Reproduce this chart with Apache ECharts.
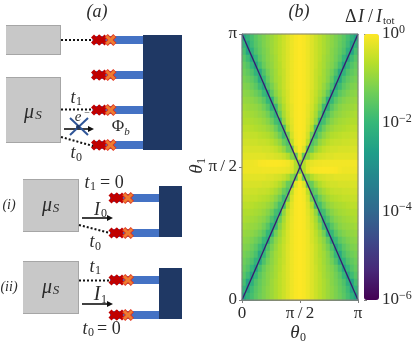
<!DOCTYPE html>
<html>
<head>
<meta charset="utf-8">
<title>chart</title>
<style>html,body{margin:0;padding:0;background:#fff}#main{width:415px;height:351px}</style>
<script src="https://cdn.jsdelivr.net/npm/echarts@6/dist/echarts.min.js"></script>
</head>
<body>
<div id="main"></div>
<script>
// log10(dI/I_tot), top row (theta1 = pi) first, left to right
var logRatio = [
[-2.5,-2.1,-1.8,-1.55,-1.35,-1.2,-1.05,-.9,-.75,-.6,-.45,-.3,-.15,-.05,0,-.05,-.15,-.3,-.45,-.6,-.75,-.9,-1.05,-1.2,-1.35,-1.55,-1.8,-2.1,-2.5],
[-2.1,-2.5,-1.9,-1.6,-1.4,-1.2,-1.05,-.9,-.75,-.6,-.45,-.3,-.15,-.05,0,-.05,-.15,-.3,-.45,-.6,-.75,-.9,-1.05,-1.2,-1.4,-1.6,-1.9,-2.5,-2.1],
[-1.8,-2.5,-2.2,-1.7,-1.45,-1.25,-1.1,-.9,-.75,-.6,-.45,-.3,-.15,-.05,0,-.05,-.15,-.3,-.45,-.6,-.75,-.9,-1.1,-1.25,-1.45,-1.7,-2.2,-2.5,-1.8],
[-1.6,-1.9,-2.5,-2,-1.55,-1.3,-1.1,-.95,-.8,-.6,-.45,-.3,-.15,-.05,0,-.05,-.15,-.3,-.45,-.6,-.8,-.95,-1.1,-1.3,-1.55,-2,-2.5,-1.9,-1.6],
[-1.45,-1.65,-2,-2.5,-1.8,-1.4,-1.15,-1,-.8,-.65,-.45,-.3,-.15,-.05,0,-.05,-.15,-.3,-.45,-.65,-.8,-1,-1.15,-1.4,-1.8,-2.5,-2,-1.65,-1.45],
[-1.35,-1.5,-1.7,-2.1,-2.4,-1.7,-1.3,-1.05,-.85,-.65,-.5,-.3,-.15,-.05,0,-.05,-.15,-.3,-.5,-.65,-.85,-1.05,-1.3,-1.7,-2.4,-2.1,-1.7,-1.5,-1.35],
[-1.25,-1.35,-1.5,-1.75,-2.4,-2,-1.45,-1.1,-.85,-.7,-.5,-.3,-.15,-.05,0,-.05,-.15,-.3,-.5,-.7,-.85,-1.1,-1.45,-2,-2.4,-1.75,-1.5,-1.35,-1.25],
[-1.15,-1.2,-1.35,-1.55,-1.9,-2.4,-1.7,-1.25,-.95,-.7,-.5,-.3,-.15,-.05,0,-.05,-.15,-.3,-.5,-.7,-.95,-1.25,-1.7,-2.4,-1.9,-1.55,-1.35,-1.2,-1.15],
[-1.05,-1.1,-1.2,-1.35,-1.55,-1.95,-2.3,-1.5,-1.05,-.8,-.55,-.35,-.15,-.05,0,-.05,-.15,-.35,-.55,-.8,-1.05,-1.5,-2.3,-1.95,-1.55,-1.35,-1.2,-1.1,-1.05],
[-.95,-1,-1.05,-1.15,-1.3,-1.55,-2,-2.2,-1.3,-.9,-.6,-.35,-.15,-.05,0,-.05,-.15,-.35,-.6,-.9,-1.3,-2.2,-2,-1.55,-1.3,-1.15,-1.05,-1,-.95],
[-.85,-.9,-.95,-1,-1.1,-1.3,-1.6,-2.2,-1.9,-1.1,-.7,-.4,-.2,-.05,0,-.05,-.2,-.4,-.7,-1.1,-1.9,-2.2,-1.6,-1.3,-1.1,-1,-.95,-.9,-.85],
[-.75,-.8,-.85,-.9,-1,-1.1,-1.3,-1.7,-2.1,-1.4,-.8,-.45,-.2,-.05,0,-.05,-.2,-.45,-.8,-1.4,-2.1,-1.7,-1.3,-1.1,-1,-.9,-.85,-.8,-.75],
[-.7,-.7,-.75,-.8,-.85,-.95,-1.1,-1.35,-1.8,-2,-1,-.5,-.25,-.05,0,-.05,-.25,-.5,-1,-2,-1.8,-1.35,-1.1,-.95,-.85,-.8,-.75,-.7,-.7],
[-.6,-.6,-.65,-.7,-.75,-.8,-.9,-1.05,-1.35,-1.8,-1.8,-.7,-.3,-.05,0,-.05,-.3,-.7,-1.8,-1.8,-1.35,-1.05,-.9,-.8,-.75,-.7,-.65,-.6,-.6],
[-.5,-.5,-.55,-.55,-.6,-.65,-.7,-.85,-1.05,-1.35,-1.9,-1.3,-.4,-.07,0,-.07,-.4,-1.3,-1.9,-1.35,-1.05,-.85,-.7,-.65,-.6,-.55,-.55,-.5,-.5],
[-.42,-.42,-.45,-.45,-.5,-.5,-.55,-.65,-.8,-1,-1.4,-1.7,-.6,-.1,0,-.1,-.6,-1.7,-1.4,-1,-.8,-.65,-.55,-.5,-.5,-.45,-.45,-.42,-.42],
[-.33,-.33,-.35,-.35,-.35,-.4,-.4,-.45,-.55,-.7,-.95,-1.4,-1.5,-.3,-.02,-.3,-1.5,-1.4,-.95,-.7,-.55,-.45,-.4,-.4,-.35,-.35,-.35,-.33,-.33],
[-.25,-.25,-.25,-.25,-.25,-.25,-.3,-.3,-.35,-.4,-.5,-.7,-1.1,-1.4,-.3,-1.4,-1.1,-.7,-.5,-.4,-.35,-.3,-.3,-.25,-.25,-.25,-.25,-.25,-.25],
[-.15,-.15,-.15,-.12,-.06,-.04,-.03,-.02,-.02,-.03,-.05,-.1,-.25,-.7,-1.3,-.7,-.3,-.2,-.15,-.12,-.1,-.1,-.1,-.1,-.1,-.1,-.1,-.1,-.1],
[-.14,-.14,-.14,-.14,-.14,-.12,-.12,-.12,-.12,-.14,-.16,-.2,-.3,-.7,-1.3,-.7,-.25,-.1,-.05,-.03,-.02,-.02,-.03,-.04,-.1,-.14,-.14,-.14,-.14],
[-.25,-.25,-.25,-.25,-.25,-.25,-.3,-.3,-.35,-.4,-.5,-.7,-1.1,-1.4,-.3,-1.4,-1.1,-.7,-.5,-.4,-.35,-.3,-.3,-.25,-.25,-.25,-.25,-.25,-.25],
[-.33,-.33,-.35,-.35,-.35,-.4,-.4,-.45,-.55,-.7,-.95,-1.4,-1.5,-.25,-.02,-.3,-1.5,-1.4,-.95,-.7,-.55,-.45,-.4,-.4,-.35,-.35,-.35,-.33,-.33],
[-.42,-.42,-.45,-.45,-.5,-.5,-.55,-.65,-.8,-1,-1.4,-1.7,-.55,-.08,0,-.1,-.6,-1.7,-1.4,-1,-.8,-.65,-.55,-.5,-.5,-.45,-.45,-.42,-.42],
[-.5,-.5,-.55,-.55,-.6,-.65,-.7,-.85,-1.05,-1.35,-1.9,-1.3,-.35,-.05,0,-.07,-.4,-1.3,-1.9,-1.35,-1.05,-.85,-.7,-.65,-.6,-.55,-.55,-.5,-.5],
[-.6,-.6,-.65,-.7,-.75,-.8,-.9,-1.05,-1.35,-1.8,-1.8,-.7,-.25,-.04,0,-.05,-.3,-.7,-1.8,-1.8,-1.35,-1.05,-.9,-.8,-.75,-.7,-.65,-.6,-.6],
[-.7,-.7,-.75,-.8,-.85,-.95,-1.1,-1.35,-1.8,-2,-1,-.45,-.2,-.04,0,-.05,-.25,-.5,-1,-2,-1.8,-1.35,-1.1,-.95,-.85,-.8,-.75,-.7,-.7],
[-.75,-.8,-.85,-.9,-1,-1.1,-1.3,-1.7,-2.1,-1.4,-.8,-.4,-.18,-.04,0,-.05,-.2,-.45,-.8,-1.4,-2.1,-1.7,-1.3,-1.1,-1,-.9,-.85,-.8,-.75],
[-.85,-.9,-.95,-1,-1.1,-1.3,-1.6,-2.2,-1.9,-1.1,-.7,-.38,-.16,-.04,0,-.05,-.2,-.4,-.7,-1.1,-1.9,-2.2,-1.6,-1.3,-1.1,-1,-.95,-.9,-.85],
[-.95,-1,-1.05,-1.15,-1.3,-1.55,-2,-2.2,-1.3,-.9,-.6,-.33,-.14,-.04,0,-.05,-.15,-.35,-.6,-.9,-1.3,-2.2,-2,-1.55,-1.3,-1.15,-1.05,-1,-.95],
[-1.05,-1.1,-1.2,-1.35,-1.55,-1.95,-2.3,-1.5,-1.05,-.8,-.55,-.33,-.14,-.04,0,-.05,-.15,-.35,-.55,-.8,-1.05,-1.5,-2.3,-1.95,-1.55,-1.35,-1.2,-1.1,-1.05],
[-1.15,-1.2,-1.35,-1.55,-1.9,-2.4,-1.7,-1.25,-.95,-.7,-.5,-.3,-.14,-.04,0,-.05,-.15,-.3,-.5,-.7,-.95,-1.25,-1.7,-2.4,-1.9,-1.55,-1.35,-1.2,-1.15],
[-1.25,-1.35,-1.5,-1.75,-2.4,-2,-1.45,-1.1,-.85,-.7,-.5,-.3,-.14,-.04,0,-.05,-.15,-.3,-.5,-.7,-.85,-1.1,-1.45,-2,-2.4,-1.75,-1.5,-1.35,-1.25],
[-1.35,-1.5,-1.7,-2.1,-2.4,-1.7,-1.3,-1.05,-.85,-.65,-.5,-.3,-.14,-.04,0,-.05,-.15,-.3,-.5,-.65,-.85,-1.05,-1.3,-1.7,-2.4,-2.1,-1.7,-1.5,-1.35],
[-1.45,-1.65,-2,-2.5,-1.8,-1.4,-1.15,-1,-.8,-.65,-.45,-.3,-.14,-.04,0,-.05,-.15,-.3,-.45,-.65,-.8,-1,-1.15,-1.4,-1.8,-2.5,-2,-1.65,-1.45],
[-1.6,-1.9,-2.5,-2,-1.55,-1.3,-1.1,-.95,-.8,-.6,-.45,-.3,-.14,-.04,0,-.05,-.15,-.3,-.45,-.6,-.8,-.95,-1.1,-1.3,-1.55,-2,-2.5,-1.9,-1.6],
[-1.8,-2.5,-2.2,-1.7,-1.45,-1.25,-1.1,-.9,-.75,-.6,-.45,-.3,-.14,-.04,0,-.05,-.15,-.3,-.45,-.6,-.75,-.9,-1.1,-1.25,-1.45,-1.7,-2.2,-2.5,-1.8],
[-2.1,-2.5,-1.9,-1.6,-1.4,-1.2,-1.05,-.9,-.75,-.6,-.45,-.3,-.14,-.04,0,-.05,-.15,-.3,-.45,-.6,-.75,-.9,-1.05,-1.2,-1.4,-1.6,-1.9,-2.5,-2.1],
[-2.5,-2.1,-1.8,-1.55,-1.35,-1.2,-1.05,-.9,-.75,-.6,-.45,-.3,-.14,-.04,0,-.05,-.15,-.3,-.45,-.6,-.75,-.9,-1.05,-1.2,-1.35,-1.55,-1.8,-2.1,-2.5]
];
// the two dark crossing lines, angles in units of pi
var diagonalUp = [[0, 0], [1, 1]];
var diagonalDown = [[0, 1], [1, 0]];
var angleTicks = {0: '0', 0.5: 'π\u2009/\u20092', 1: 'π'};
var viridis = ['#440154', '#482878', '#3e4989', '#31688e', '#26828e', '#1f9e89', '#35b779', '#6ece58', '#b5de2b', '#fde725'];

var ink = '#2b2b2b';
var serif = '"Liberation Serif", serif';

// heatmap cells
var colIdx = [], rowIdx = [], cells = [];
logRatio[0].forEach(function (v, c) { colIdx.push(c); });
logRatio.forEach(function (row, r) {
    rowIdx.push(r);
    row.forEach(function (v, c) {
        cells.push([c, logRatio.length - 1 - r, v]);
    });
});

// ---- schematic on the left ----
var sketch = [];
function box(x, y, w, h, fill) {
    sketch.push({type: 'rect', silent: true, shape: {x: x, y: y, width: w, height: h}, style: {fill: fill}});
}
function seg(x1, y1, x2, y2, color, width, dash) {
    sketch.push({type: 'line', silent: true,
        shape: {x1: x1, y1: y1, x2: x2, y2: y2},
        style: {stroke: color, lineWidth: width, lineDash: dash || null}});
}
function txt(x, y, s, size, italic, align) {
    sketch.push({type: 'text', silent: true, x: x, y: y, style: {
        text: s, fill: ink, fontFamily: serif, fontSize: size,
        fontStyle: italic ? 'italic' : 'normal', align: align || 'center', verticalAlign: 'middle'}});
}
function gate(x, y, s, color, width) {
    seg(x - s, y - s, x + s, y + s, color, width);
    seg(x + s, y - s, x - s, y + s, color, width);
}
function lead(x0, x1, y) {
    box(x0, y - 4, x1 - x0, 8, '#4472c4');
    gate(x0 + 4, y, 4, '#c00000', 4.2);
    gate(x0 + 9.5, y, 4, '#c00000', 4.2);
    gate(x0 + 18, y, 4.4, '#e0301e', 4.6);
    gate(x0 + 18, y, 4, '#ed7d31', 2.8);
}
function lump(x, y, w, h) {
    box(x, y, w, h, '#a6a6a6');
    box(x, y + 1, w - 1, h - 2, '#c8c8c8');
}
function arrow(x1, x2, y) {
    seg(x1, y, x2 - 4, y, '#111', 1.6);
    sketch.push({type: 'polygon', silent: true, shape: {points: [[x2, y], [x2 - 6, y - 3], [x2 - 6, y + 3]]}, style: {fill: '#111'}});
}
var dots = [2, 2];

// panel (a)
txt(97, 12, '(a)', 18, true);
lump(6, 25, 55, 30);
lump(6, 77, 55, 66);
box(143, 35, 39, 115, '#1f3864');
[40, 75, 110, 145].forEach(function (y) { lead(92.5, 143, y); });
seg(61, 40, 93, 40, '#111', 2, dots);
seg(61, 109.5, 93, 109.5, '#111', 2, dots);
seg(61, 137, 93, 146, '#111', 2, dots);
arrow(64, 94, 129);
seg(70, 118, 88, 135, '#2f5597', 2);
seg(88, 118, 70, 135, '#2f5597', 2);
sketch.push({type: 'circle', silent: true, shape: {cx: 78, cy: 127, r: 2}, style: {fill: '#1f3864'}});
txt(29, 113, 'μ', 20, true); txt(38.5, 116, 'S', 13, true);
txt(73, 98, 't', 18, true); txt(79, 102, '1', 12);
txt(78, 117, 'e', 15, true); txt(87, 113, '−', 10);
txt(118, 127, 'Φ', 17); txt(127, 132, 'b', 11, true);
txt(73, 153, 't', 18, true); txt(79, 158, '0', 12);

// panel (i)
txt(9, 205, '(i)', 14, true);
lump(23, 179, 56, 53);
box(159, 186, 23, 51, '#1f3864');
lead(110, 159, 198);
lead(110, 159, 233);
seg(79, 225, 110, 233, '#111', 2, dots);
arrow(82, 113, 218);
txt(47, 206, 'μ', 20, true); txt(56, 209, 'S', 13, true);
txt(87, 183, 't', 18, true); txt(93, 187, '1', 12);
txt(100, 183, '= 0', 18, false, 'left');
txt(97, 210, 'I', 18, true); txt(104, 214, '0', 12);
txt(92, 242, 't', 18, true); txt(98, 247, '0', 12);

// panel (ii)
txt(9, 287, '(ii)', 14, true);
lump(23, 261, 56, 53);
box(159, 268, 23, 51, '#1f3864');
lead(110, 159, 280);
lead(110, 159, 315);
seg(79, 280.5, 110, 280.5, '#111', 2, dots);
arrow(82, 113, 304);
txt(47, 288, 'μ', 20, true); txt(56, 291, 'S', 13, true);
txt(92, 267, 't', 18, true); txt(98, 271, '1', 12);
txt(97, 295, 'I', 20, true); txt(104, 300, '1', 12);
txt(85, 329, 't', 18, true); txt(91, 333, '0', 12);
txt(97, 329, '= 0', 18, false, 'left');

// titles and axis names of panel (b)
txt(299, 12, '(b)', 18, true);
txt(345, 17, 'Δ', 18, false, 'left');
txt(358, 17, 'I', 18, true, 'left');
txt(368, 17, '/', 18, false, 'left');
txt(376, 17, 'I', 18, true, 'left');
txt(383, 21, 'tot', 11, false, 'left');
txt(295, 333, 'θ', 19, true); txt(303, 338, '0', 12);
sketch.push({type: 'text', silent: true, x: 197, y: 169, rotation: Math.PI / 2, style: {
    text: 'θ', fill: ink, fontFamily: serif, fontSize: 19, fontStyle: 'italic', align: 'center', verticalAlign: 'middle'}});
sketch.push({type: 'text', silent: true, x: 202, y: 161, rotation: Math.PI / 2, style: {
    text: '1', fill: ink, fontFamily: serif, fontSize: 12, align: 'center', verticalAlign: 'middle'}});

var frame = '#7f7f7f';
function angleAxis(grid, pos) {
    return {
        type: 'value', gridIndex: grid, position: pos, min: 0, max: 1, interval: 0.5,
        splitLine: {show: false},
        axisLine: {show: true, lineStyle: {color: frame, width: 1}},
        axisTick: {show: true, length: 3, lineStyle: {color: frame}},
        axisLabel: {color: ink, fontFamily: serif, fontSize: 17, margin: 5,
            formatter: function (v) { return angleTicks[v]; }}
    };
}

var chart = echarts.init(document.getElementById('main'), null, {renderer: 'canvas'});
chart.setOption({
    animation: false,
    backgroundColor: '#fff',
    grid: [
        {left: 242, top: 34, width: 116, height: 266},
        {left: 242, top: 34, width: 116, height: 266, show: true, borderColor: frame, borderWidth: 1, backgroundColor: 'transparent', z: 3},
        {left: 364, top: 34, width: 15, height: 266}
    ],
    xAxis: [
        {type: 'category', gridIndex: 0, data: colIdx, show: false},
        angleAxis(1, 'bottom'),
        {type: 'value', gridIndex: 2, min: 0, max: 1, show: false}
    ],
    yAxis: [
        {type: 'category', gridIndex: 0, data: rowIdx, show: false},
        angleAxis(1, 'left'),
        {type: 'value', gridIndex: 2, position: 'right', min: -6, max: 0, interval: 2,
            splitLine: {show: false},
            axisLine: {show: false},
            axisTick: {show: true, length: 3, lineStyle: {color: frame}},
            axisLabel: {margin: 3, color: ink, fontFamily: serif,
                formatter: function (v) {
                    return '{b|10}{s|' + String(v).replace('-', '−') + '}';
                },
                rich: {
                    b: {fontFamily: serif, fontSize: 17, color: ink},
                    s: {fontFamily: serif, fontSize: 12, color: ink, padding: [0, 0, 8, 0]}
                }
            }
        }
    ],
    visualMap: {
        type: 'continuous', seriesIndex: 0, dimension: 2, min: -6, max: 0,
        left: 364, top: 34, itemWidth: 15, itemHeight: 266, padding: 0,
        calculable: false, hoverLink: false, text: null, showLabel: false,
        inRange: {color: viridis}
    },
    series: [
        {type: 'heatmap', xAxisIndex: 0, yAxisIndex: 0, data: cells, progressive: 0, itemStyle: {borderWidth: 0}, z: 1},
        {type: 'line', xAxisIndex: 1, yAxisIndex: 1, data: diagonalUp, showSymbol: false, silent: true,
            lineStyle: {color: '#3a1a70', width: 1.3}, z: 2},
        {type: 'line', xAxisIndex: 1, yAxisIndex: 1, data: diagonalDown, showSymbol: false, silent: true,
            lineStyle: {color: '#3a1a70', width: 1.3}, z: 2}
    ],
    graphic: {elements: sketch}
});
</script>
</body>
</html>
